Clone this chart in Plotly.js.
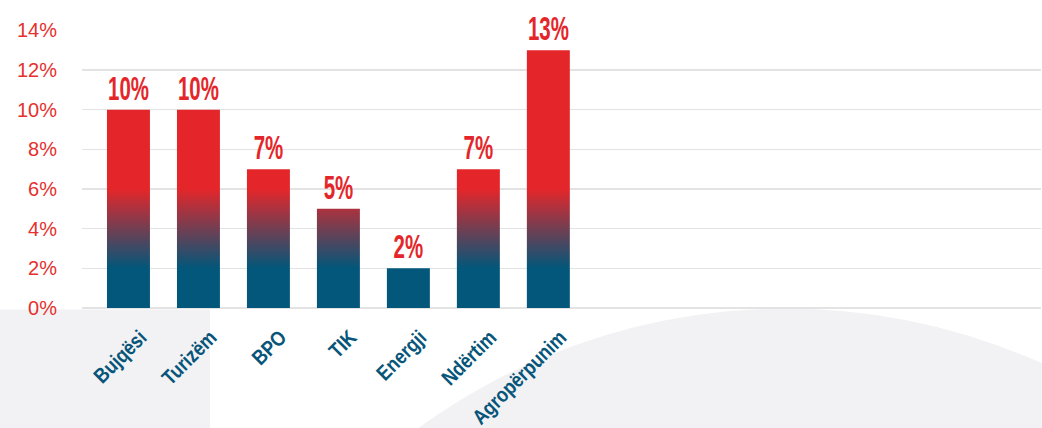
<!DOCTYPE html>
<html>
<head>
<meta charset="utf-8">
<script src="https://cdn.plot.ly/plotly-3.0.1.min.js"></script>
<style>
html,body{margin:0;padding:0;background:#fff;}
#chart{width:1042px;height:428px;}
</style>
</head>
<body>
<div id="chart"></div>
<script>
// Data
const categories = ["Bujqësi", "Turizëm", "BPO", "TIK", "Energji", "Ndërtim", "Agropërpunim"];
const values = [10, 10, 7, 5, 2, 7, 13];
const valueLabels = ["10%", "10%", "7%", "5%", "2%", "7%", "13%"];
const tickValues = [0, 2, 4, 6, 8, 10, 12, 14];
const tickLabels = ["0%", "2%", "4%", "6%", "8%", "10%", "12%", "14%"];

const RED = "#E4262A";
const BLUE = "#02577A";

const trace = {
  type: "bar",
  x: categories,
  y: values,
  text: valueLabels,
  texttemplate: "%{text}",
  marker: {color: RED, line: {width: 0}},
  textposition: "outside",
  constraintext: "none",
  cliponaxis: false,
  textfont: {family: "Liberation Sans, Arial, sans-serif", size: 33, weight: "bold", color: RED},
  hoverinfo: "skip"
};

const layout = {
  width: 1042, height: 428,
  margin: {l: 82, r: 1, t: 30, b: 120},
  paper_bgcolor: "#ffffff",
  plot_bgcolor: "rgba(0,0,0,0)",
  showlegend: false,
  bargap: 0.386,
  xaxis: {
    type: "category",
    range: [-0.664, 13.04],
    tickangle: -45,
    showgrid: false,
    zeroline: false,
    showline: false,
    ticks: "",
    ticklabelstandoff: 12,
    ticklabelshift: 12,
    tickfont: {family: "Liberation Sans, Arial, sans-serif", size: 21, weight: "bold", color: "#08557A"}
  },
  yaxis: {
    range: [0, 14.02],
    tickvals: tickValues,
    ticktext: tickLabels,
    showgrid: true,
    gridcolor: "#E3E3E3",
    gridwidth: 1.5,
    zeroline: true,
    zerolinecolor: "#E3E3E3",
    zerolinewidth: 1.5,
    showline: false,
    ticks: "",
    ticklabelstandoff: 24,
    tickfont: {family: "Liberation Sans, Arial, sans-serif", size: 20, color: "#E5302C"}
  },
  shapes: [
    {type: "rect", xref: "paper", yref: "paper", x0: -0.0855, x1: 0.1335, y0: -0.432, y1: -0.005,
     fillcolor: "#F2F2F4", line: {width: 0}, layer: "below"},
    {type: "circle", xref: "paper", yref: "paper", x0: 0.0824, x1: 1.3858, y0: -4.496, y1: -0.002,
     fillcolor: "#F2F2F4", line: {width: 0}, layer: "below"}
  ]
};

function squeeze(t, sx, anchor, dy) {
  const bb = t.getBBox();
  const ax = anchor === "end" ? bb.x + bb.width : bb.x + bb.width / 2;
  const ay = bb.y + bb.height / 2;
  const existing = t.getAttribute("transform") || "";
  t.setAttribute("transform", existing + " translate(" + ax + "," + (ay + dy) + ") scale(" + sx + ",1) translate(" + (-ax) + "," + (-ay) + ")");
}

const gd = document.getElementById("chart");
Plotly.newPlot(gd, [trace], layout, {staticPlot: true, displayModeBar: false}).then(function () {
  const ya = gd._fullLayout.yaxis;
  const svgNS = "http://www.w3.org/2000/svg";
  const defs = gd.querySelector("svg.main-svg defs");
  const grad = document.createElementNS(svgNS, "linearGradient");
  grad.setAttribute("id", "barGrad");
  grad.setAttribute("gradientUnits", "userSpaceOnUse");
  grad.setAttribute("x1", "0"); grad.setAttribute("x2", "0");
  grad.setAttribute("y1", String(ya.l2p(6)));
  grad.setAttribute("y2", String(ya.l2p(2)));
  [[0, RED], [1, BLUE]].forEach(function (s) {
    const st = document.createElementNS(svgNS, "stop");
    st.setAttribute("offset", String(s[0]));
    st.setAttribute("stop-color", s[1]);
    grad.appendChild(st);
  });
  defs.appendChild(grad);
  gd.querySelectorAll(".barlayer .point path").forEach(function (p) {
    p.style.fill = "url(#barGrad)";
  });
  // condensed look for value labels and category labels
  gd.querySelectorAll(".barlayer .point text").forEach(function (t) { squeeze(t, 0.62, "middle", 0); });
  gd.querySelectorAll(".xaxislayer-above .xtick text").forEach(function (t) { squeeze(t, 0.85, "end", 0); });
});
</script>
</body>
</html>
